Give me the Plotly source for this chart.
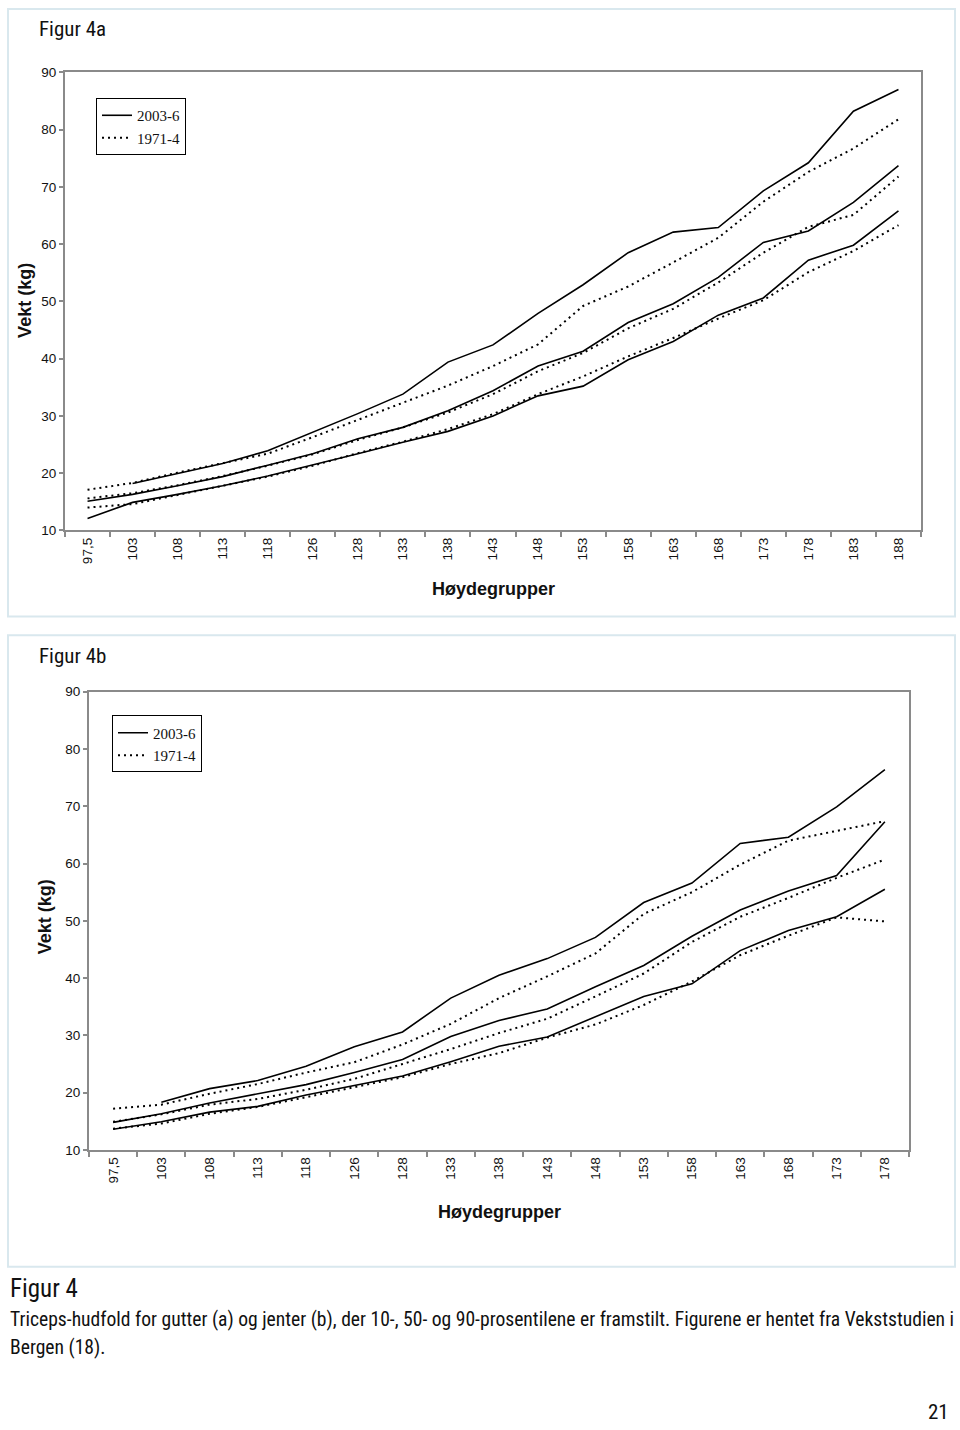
import plotly.graph_objects as go

# ---------------- data ----------------
cats_a = ["97,5", "103", "108", "113", "118", "126", "128", "133", "138", "143",
          "148", "153", "158", "163", "168", "173", "178", "183", "188"]
cats_b = ["97,5", "103", "108", "113", "118", "126", "128", "133", "138", "143",
          "148", "153", "158", "163", "168", "173", "178"]

# Figur 4a (gutter)
a_p90_2003 = [None, 18.2, 20.0, 21.7, 23.9, 27.1, 30.4, 33.8, 39.4, 42.4, 47.9, 52.9, 58.5, 62.1, 62.9, 69.3, 74.2, 83.2, 87.0]
a_p90_1971 = [17.1, 18.3, 20.1, 21.8, 23.4, 26.3, 29.3, 32.2, 35.3, 38.7, 42.5, 49.2, 52.6, 56.8, 61.1, 67.4, 72.6, 76.7, 81.8]
a_p50_2003 = [15.1, 16.3, 17.8, 19.4, 21.4, 23.4, 26.0, 28.0, 30.9, 34.4, 38.7, 41.3, 46.3, 49.6, 54.2, 60.3, 62.3, 67.3, 73.7]
a_p50_1971 = [15.6, 16.5, 17.9, 19.5, 21.3, 23.3, 25.8, 28.0, 30.6, 33.8, 37.8, 41.0, 45.3, 48.7, 53.3, 58.5, 63.0, 65.1, 71.8]
a_p10_2003 = [12.1, 14.9, 16.3, 17.8, 19.5, 21.4, 23.4, 25.4, 27.3, 30.0, 33.5, 35.2, 39.8, 43.0, 47.6, 50.6, 57.2, 59.8, 65.8]
a_p10_1971 = [14.0, 14.6, 16.2, 17.8, 19.4, 21.3, 23.5, 25.5, 27.7, 30.3, 33.8, 36.9, 40.4, 43.6, 47.0, 50.2, 55.1, 58.8, 63.3]

# Figur 4b (jenter)
b_p90_2003 = [None, 18.3, 20.7, 22.1, 24.6, 28.0, 30.6, 36.5, 40.5, 43.4, 47.1, 53.2, 56.6, 63.5, 64.6, 69.9, 76.4]
b_p90_1971 = [17.2, 17.9, 19.8, 21.5, 23.5, 25.3, 28.4, 32.0, 36.5, 40.3, 44.3, 51.2, 55.0, 59.8, 64.0, 65.7, 67.4]
b_p50_2003 = [14.8, 16.3, 18.2, 19.8, 21.4, 23.5, 25.8, 29.8, 32.6, 34.6, 38.5, 42.2, 47.3, 51.9, 55.2, 57.9, 67.3]
b_p50_1971 = [14.9, 16.2, 17.9, 18.9, 20.5, 22.4, 25.0, 27.6, 30.4, 32.9, 36.8, 40.8, 46.3, 50.7, 54.0, 57.5, 60.7]
b_p10_2003 = [13.6, 14.9, 16.6, 17.6, 19.6, 21.2, 22.9, 25.4, 28.1, 29.7, 33.3, 36.8, 39.0, 44.8, 48.3, 50.7, 55.5]
b_p10_1971 = [13.7, 14.6, 16.3, 17.5, 19.2, 20.9, 22.7, 25.0, 26.9, 29.6, 31.9, 35.3, 39.4, 44.0, 47.4, 50.6, 49.9]

legend_names = ["2003-6", "1971-4"]
y_ticks = [10, 20, 30, 40, 50, 60, 70, 80, 90]

W, H = 960, 1430
def px(x):
    return x / W
def py(y):
    return 1 - y / H

SANS = "Liberation Sans, Arial, sans-serif"
NARROW = "Liberation Sans Narrow, Arial Narrow, Roboto Condensed, DejaVu Sans Condensed, sans-serif"
SERIF = "Liberation Serif, Times New Roman, serif"
DOT = "2px,4px"

fig = go.Figure()

def add_panel(cats, series, xa, ya, legend):
    for i, (vals, is_new) in enumerate(series):
        fig.add_trace(go.Scatter(
            x=cats, y=vals, mode="lines",
            name=legend_names[0] if is_new else legend_names[1],
            line=dict(color="black", width=1.6 if is_new else 2.0,
                      dash="solid" if is_new else DOT),
            xaxis=xa, yaxis=ya, legend=legend,
            showlegend=(i < 2), connectgaps=False, hoverinfo="skip",
        ))

add_panel(cats_a, [(a_p90_2003, True), (a_p90_1971, False), (a_p50_2003, True),
                   (a_p50_1971, False), (a_p10_2003, True), (a_p10_1971, False)],
          "x", "y", "legend")
add_panel(cats_b, [(b_p90_2003, True), (b_p90_1971, False), (b_p50_2003, True),
                   (b_p50_1971, False), (b_p10_2003, True), (b_p10_1971, False)],
          "x2", "y2", "legend2")

def xaxis_cfg(cats, dom, anchor):
    return dict(domain=dom, anchor=anchor, type="category", categoryorder="array",
                categoryarray=cats, range=[-0.5, len(cats) - 0.5],
                tickson="boundaries", ticks="outside", ticklen=5, tickcolor="#8a8a8a",
                tickwidth=1.5, tickangle=-90, showline=True, linecolor="#8a8a8a",
                linewidth=2, mirror=True, showgrid=False, zeroline=False,
                tickfont=dict(family=SANS, size=13.5, color="#111"), fixedrange=True)

def yaxis_cfg(dom, anchor):
    return dict(domain=dom, anchor=anchor, range=[10, 90], tickvals=y_ticks,
                ticks="outside", ticklen=4, tickcolor="#8a8a8a", tickwidth=1.5,
                showline=True, linecolor="#8a8a8a", linewidth=2, mirror=True,
                showgrid=False, zeroline=False,
                tickfont=dict(family=SANS, size=13.5, color="#111"), fixedrange=True)

legend_style = dict(font=dict(family=SERIF, size=15, color="#111"), bgcolor="white",
                    bordercolor="black", borderwidth=1, xanchor="left", yanchor="top",
                    tracegroupgap=0, itemwidth=30)

fig.update_layout(
    width=W, height=H, margin=dict(l=0, r=0, t=0, b=0),
    paper_bgcolor="white", plot_bgcolor="white",
    xaxis=xaxis_cfg(cats_a, [px(65), px(921)], "y"),
    yaxis=yaxis_cfg([py(529), py(66)], "x"),
    xaxis2=xaxis_cfg(cats_b, [px(89), px(909)], "y2"),
    yaxis2=yaxis_cfg([py(1155), py(692)], "x2"),
    legend=dict(x=px(96), y=py(92), **legend_style),
    legend2=dict(x=px(112), y=py(716), **legend_style),
)

# panel borders
for (x0, y0, x1, y1) in [(8, 2, 955, 616), (8, 635, 955, 1273)]:
    fig.add_shape(type="rect", xref="paper", yref="paper",
                  x0=px(x0), x1=px(x1), y0=py(y1), y1=py(y0),
                  line=dict(color="#d9e8ee", width=2), fillcolor="rgba(0,0,0,0)")

def ann(text, x, y, size, family, bold=False, xanchor="left", angle=0, yanchor="middle"):
    fig.add_annotation(text=f"<b>{text}</b>" if bold else text, xref="paper", yref="paper",
                       x=px(x), y=py(y), showarrow=False, xanchor=xanchor, yanchor=yanchor,
                       textangle=angle, font=dict(family=family, size=size, color="#111"))

ann("Figur 4a", 37, 22, 21, NARROW)
ann("Figur 4b", 37, 656, 21, NARROW)
ann("Vekt (kg)", 25, 297, 18, SANS, bold=True, xanchor="center", angle=-90)
ann("Vekt (kg)", 45, 920, 18, SANS, bold=True, xanchor="center", angle=-90)
ann("Høydegrupper", 493, 588, 18, SANS, bold=True, xanchor="center")
ann("Høydegrupper", 499, 1218, 18, SANS, bold=True, xanchor="center")

ann("Figur 4", 8, 1295, 25, NARROW)
ann("Triceps-hudfold for gutter (a) og jenter (b), der 10-, 50- og 90-prosentilene er framstilt. "
    "Figurene er hentet fra Vekststudien i", 8, 1326, 19.6, NARROW)
ann("Bergen (18).", 8, 1355, 19.6, NARROW)
ann("21", 951, 1420, 21, NARROW, xanchor="right")

fig.write_html("out.html", config={"displayModeBar": False},
               post_script="document.body.style.margin='0';document.body.style.overflow='hidden';")
